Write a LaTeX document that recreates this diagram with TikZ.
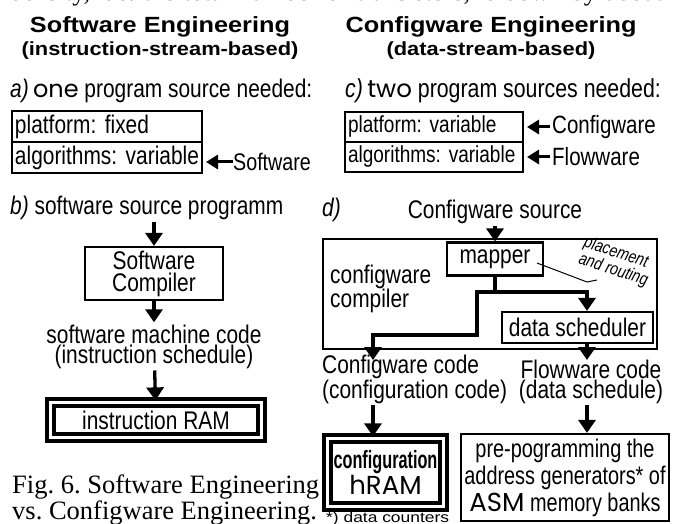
\documentclass[tikz,border=0pt]{standalone}
\usepackage{fontspec}
\setmainfont{Liberation Serif}
\newfontfamily\narrowsf{Liberation Sans}[FakeStretch=0.82]
\newfontfamily\tightsf{Liberation Sans}[FakeStretch=0.78]
\newfontfamily\headsf{Liberation Sans}[FakeStretch=1.15]
\newfontfamily\condsf{Liberation Sans}[FakeStretch=0.65]
\newfontfamily\widesf{Liberation Sans}[FakeStretch=1.2]
\newfontfamily\geosf{Poppins}
\usetikzlibrary{arrows.meta, positioning}
\newcommand{\fsz}[2]{\fontsize{#1}{#2}\selectfont}

\tikzset{
  txt/.style={inner xsep=0pt, inner ysep=2pt, font=\narrowsf\fsz{25.5}{20}},
  head/.style={inner sep=0pt, anchor=base, font=\headsf\bfseries\fsz{22}{22}},
  subhead/.style={inner sep=0pt, anchor=base, font=\headsf\bfseries\fsz{19}{19}},
  cell/.style={draw, line width=2.2pt, outer sep=0pt, anchor=north west, text width=#1,
    inner xsep=3pt, minimum height=31pt, font=\narrowsf\fsz{25.5}{25}},
  box/.style={draw, line width=2.2pt, font=\narrowsf\fsz{25.5}{22}},
  ram/.style={draw, double, line width=4.2pt, double distance=2.5pt},
  arr/.style={line width=3.3pt, -{Triangle[width=17pt,length=13pt]}},
  sarr/.style={line width=3pt, shorten >=4pt, -{Triangle[width=14pt,length=12pt]}},
}

\begin{document}
\frenchspacing
\begin{tikzpicture}[x=1pt, y=-1pt]
  \useasboundingbox (0,0) rectangle (673,524);
  \clip (0,0) rectangle (673,524);
  % running text cut off above the figure
  \node[anchor=base west, inner sep=0pt, font=\fsz{26}{26}] at (10,1) (bodyline)
    {\makebox[653pt][s]{density, i.\,e. the total number of transistors, is down by about}};

  % left half: software
  \node[head] at (160,33) (swhead) {Software Engineering};
  \node[subhead] at (160,56) (swsub) {(instruction-stream-based)};
  \node[txt, anchor=base west] at (10,98) (alabel)
    {\textit{a)}\,{\geosf\fsz{24}{24}one} program source needed:};

  \node[cell=184pt] at (12,111) (pfix) {platform: fixed};
  \node[cell=184pt] at (pfix.south west) (avar) {algorithms: variable};
  \node[txt, anchor=west, font=\narrowsf\fsz{24}{24}] at (233,162) (swlbl) {Software};
  \draw[sarr] (swlbl.west) -- (swlbl.west -| avar.east);

  \node[txt, anchor=base west] at (10,215) (bsrc) {\textit{b)} software source programm};
  \node[box, minimum width=138pt, minimum height=53pt, align=center] at (154,273.5) (comp) {Software\\Compiler};
  \node[txt, anchor=base, align=center] at (154,363) (mcode) {software machine code\\(instruction schedule)};
  \node[ram, minimum width=211pt, minimum height=35pt, font=\narrowsf\fsz{25.5}{25}] at (156,420) (iram) {instruction RAM};

  \draw[arr] (bsrc.south -| comp.north) -- (comp);
  \draw[arr] (comp) -- (mcode);
  \draw[arr] (mcode) -- (iram);

  \node[anchor=base west, align=left, inner sep=0pt, font=\fsz{26.5}{26}] at (12,519) (caption)
    {Fig. 6. Software Engineering\\vs. Configware Engineering.};

  % right half: configware
  \node[head] at (491,33) (cwhead) {Configware Engineering};
  \node[subhead] at (491,56) (cwsub) {(data-stream-based)};
  \node[txt, anchor=base west, font=\narrowsf\fsz{26}{20}] at (345,98) (clabel)
    {\textit{c)}\,{\geosf\fsz{24.5}{24}two} program sources needed:};

  \node[cell=172pt, font=\narrowsf\fsz{23.2}{23}, minimum height=30pt] at (345,112) (pvar) {platform: variable};
  \node[cell=172pt, font=\narrowsf\fsz{23.2}{23}, minimum height=30pt] at (pvar.south west) (avar2) {algorithms: variable};
  \node[txt, anchor=west, inner xsep=2pt, font=\narrowsf\fsz{25}{25}] at (550,127) (cwlbl) {Configware};
  \node[txt, anchor=west, inner xsep=2pt, font=\narrowsf\fsz{25}{25}] at (550,157) (fwlbl) {Flowware};
  \draw[sarr] (cwlbl.west) -- (cwlbl.west -| pvar.east);
  \draw[sarr] (fwlbl.west) -- (fwlbl.west -| avar2.east);

  \node[txt, anchor=base west] at (322,217) (dlabel) {\textit{d)}};
  \node[txt, anchor=base] at (495,219) (cwsrc) {Configware source};

  \node[box, minimum width=334pt, minimum height=110pt] at (490,294) (cwc) {};
  \node[txt, anchor=base west, align=left] at (330,308) (cwctxt) {configware\\compiler};
  \node[box, minimum width=96pt, minimum height=33pt] at (495,259) (map) {mapper};
  \node[box, minimum width=151pt, minimum height=31pt] at (577.5,327.5) (dsch) {data scheduler};
  \node[txt, rotate=-18, align=left, font=\narrowsf\itshape\fsz{17.5}{14}] at (616,262) (plr) {placement\\and routing};

  \coordinate (jr) at (587,292);
  \coordinate (jl) at (477,292);
  \coordinate (bend) at (477,335);
  \coordinate (cwout) at (373,360);
  \coordinate (flout) at (587,360);
  \coordinate (pl1) at (537,263);
  \coordinate (pl2) at (587,282);
  \coordinate (pl3) at (597,280);

  \draw[arr] (cwsrc.south -| map.north) -- (map);
  \draw[arr] (map.south) |- (jr) -- (jr |- dsch.north);
  \draw[arr] (map.south) |- (jl) -- (bend) -| (cwout);
  \draw[arr] (dsch.south -| flout) -- (flout);
  \draw[line width=1pt] (pl1) -- (pl2) -- (pl3);

  \node[txt, anchor=base west, align=left] at (322,398) (cwcode) {Configware code\\(configuration code)};
  \node[txt, anchor=base, align=center] at (591,398) (flcode) {Flowware code\\(data schedule)};

  \node[ram, minimum width=116pt, minimum height=68pt, align=center] at (385.5,472.5) (hram)
    {{\condsf\bfseries\fsz{25}{25}configuration}\\{\geosf\fsz{26}{26}hRAM}};
  \node[anchor=base west, inner sep=0pt, font=\widesf\fsz{14.5}{14.5}] at (326,522) (note) {*) data counters};
  \node[box, minimum width=208pt, minimum height=87pt, align=center, font=\tightsf\fsz{25.5}{27}] at (565,477.5) (prebox)
    {pre-pogramming the\\address generators* of\\{\geosf\fsz{26}{27}ASM} memory banks};

  \draw[arr] (cwcode.south -| cwout) -- (cwout |- hram.north);
  \draw[arr] (flcode.south -| flout) -- (flout |- prebox.north);
\end{tikzpicture}
\end{document}
